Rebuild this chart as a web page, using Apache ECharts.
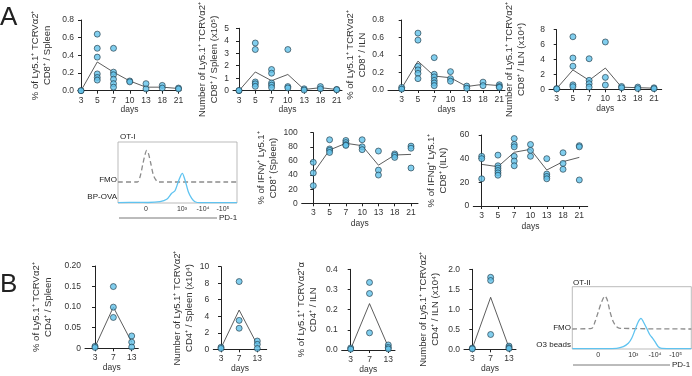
<!DOCTYPE html>
<html>
<head>
<meta charset="utf-8">
<script src="https://cdn.jsdelivr.net/npm/echarts@6/dist/echarts.min.js"></script>
<style>
html, body { margin: 0; padding: 0; background: #fff; }
#main { width: 692px; height: 376px; }
</style>
</head>
<body>
<div id="main"></div>
<script>
var FONT = '"Liberation Sans", Arial, sans-serif';

// x categories (days after transfer)
var daysA = ['3', '5', '7', '10', '13', '18', '21'];
var daysB = ['3', '7', '13'];

// A - CD8 (OT-I), one list of mice per day
var cd8SpleenPct = [[0.0, 0.0], [0.64, 0.48, 0.38, 0.19, 0.15, 0.12], [0.48, 0.21, 0.18, 0.13, 0.08, 0.04], [0.11, 0.10], [0.08, 0.02], [0.06, 0.03], [0.03, 0.02]];
var cd8SpleenPctMean = [0.0, 0.325, 0.21, 0.11, 0.04, 0.04, 0.025];
var cd8SpleenNum = [[0.0, 0.02], [3.82, 3.3, 0.7, 0.55, 0.35], [1.7, 1.4, 0.62, 0.45, 0.25], [3.3, 0.33, 0.22], [0.15, 0.05], [0.33, 0.15], [0.1, 0.08]];
var cd8SpleenNumMean = [0.0, 1.5, 0.8, 1.3, 0.1, 0.24, 0.1];
var cd8IlnPct = [[0.03, 0.01], [0.65, 0.57, 0.27, 0.23, 0.19, 0.13], [0.37, 0.18, 0.15, 0.11, 0.08, 0.05], [0.21, 0.13, 0.10], [0.045, 0.02], [0.09, 0.05], [0.06, 0.04, 0.03]];
var cd8IlnPctMean = [0.02, 0.33, 0.16, 0.14, 0.04, 0.065, 0.05];
var cd8IlnNum = [[0.1, 0.05], [7.05, 4.2, 3.1, 0.6, 0.35], [4.1, 1.2, 0.75, 0.3], [6.35, 1.6, 0.57], [0.38, 0.2], [0.3, 0.1], [0.2, 0.08]];
var cd8IlnNumMean = [0.1, 2.6, 1.2, 2.85, 0.28, 0.22, 0.15];
var ifngSpleen = [[58, 43, 25], [90, 77, 75, 72], [89, 86, 83, 82], [90, 80, 76], [74, 47, 40], [70, 68, 65], [81, 78, 50]];
var ifngSpleenMean = [43, 75.5, 85, 81.6, 54, 68.4, 69.3];
var ifngIln = [[42, 40, 23], [43, 34, 32, 30, 28, 26], [57, 52, 50, 42, 38, 34], [52, 47, 42], [40, 27, 25, 23], [45, 36, 31], [51, 50, 22]];
var ifngIlnMean = [35.2, 33.2, 45.4, 47.9, 30.4, 37.5, 41.1];

// B - CD4 (OT-II)
var cd4SpleenPct = [[0.005, 0.002], [0.15, 0.10, 0.075], [0.03, 0.015, 0.003]];
var cd4SpleenPctMean = [0.003, 0.10, 0.015];
var cd4SpleenNum = [[0.25, 0.1], [8.2, 3.5, 2.55], [1.0, 0.6, 0.1]];
var cd4SpleenNumMean = [0.15, 4.75, 0.55];
var cd4IlnPct = [[0.01, 0.004], [0.335, 0.28, 0.085], [0.025, 0.013, 0.005]];
var cd4IlnPctMean = [0.005, 0.23, 0.015];
var cd4IlnNum = [[0.03, 0.01], [1.8, 1.72, 0.37], [0.08, 0.04, 0.02]];
var cd4IlnNumMean = [0.02, 1.3, 0.04];

// PD-1 histograms: [channel, count]
var pdTickLabels = ['0', '10\u00b3', '-10\u2074', '-10\u2075'];
var otiTicks = [28, 64, 85, 105];
var otiFmo = [[0, 0], [19.3, 0], [22, 5], [24.7, 17.3], [27, 27.3], [28.7, 31.6], [30.3, 29], [32.7, 19], [35.3, 7.3], [37.7, 2.3], [40.3, 0], [119, 0]];
var otiPd1 = [[0, 0.4], [20, 0.6], [30, 0.5], [42, 1.3], [48.7, 3.7], [53.7, 9.7], [57, 12.3], [60.3, 21.3], [64.3, 29.7], [67, 23], [70.3, 11.3], [73.7, 4.7], [77, 1.3], [82, 0.3], [119, 0.3]];
var otiiTicks = [26, 61, 82.7, 103.4];
var otiiFmo = [[0, 0], [19.4, 0.7], [22.7, 7.3], [26, 17.3], [29.4, 27.3], [32.7, 33], [35, 29], [37.7, 17.3], [41, 7.3], [44.4, 2.3], [47.7, 0.7], [119, 0]];
var otiiPd1 = [[0, 0.3], [30, 0.4], [44.4, 0.7], [51, 2.3], [56, 5.7], [59.4, 10.7], [62.7, 19], [66, 27.3], [68.7, 30.7], [71, 27.3], [74.4, 20.7], [77.7, 14], [80.4, 10.7], [82.7, 7.3], [86, 2.3], [89.4, 0.7], [119, 0.3]];

var option = {
    backgroundColor: '#fff',
    animation: false,
    textStyle: { fontFamily: FONT },
    grid: [], xAxis: [], yAxis: [], series: [], graphic: []
};

function dots(groups) {
    var out = [];
    groups.forEach(function (g, i) {
        g.forEach(function (v) { out.push([i, v]); });
    });
    return out;
}

function addPanel(cats, pts, mean, lay) {
    var idx = option.grid.length;
    var n = cats.length;
    var step = (lay.lastCat - lay.firstCat) / (n - 1);
    var idxs = cats.map(function (c, i) { return i; });
    option.grid.push({
        left: lay.axisX, top: lay.top,
        width: lay.xEnd - lay.axisX, height: lay.zero - lay.top
    });
    option.xAxis.push({
        gridIndex: idx, type: 'value',
        min: -(lay.firstCat - lay.axisX) / step,
        max: (n - 1) + (lay.xEnd - lay.lastCat) / step,
        splitLine: { show: false },
        axisLine: { show: true, onZero: false, lineStyle: { color: '#222', width: 1 } },
        axisTick: { show: true, customValues: idxs, length: 3, lineStyle: { color: '#222', width: 1 } },
        axisLabel: {
            customValues: idxs, margin: 5, fontSize: 8.5, color: '#333', fontFamily: FONT,
            formatter: function (v) { return cats[Math.round(v)]; }
        },
        name: 'days', nameLocation: 'middle', nameGap: lay.daysGap || 14,
        nameTextStyle: { fontSize: 8.5, color: '#333', fontFamily: FONT }
    });
    option.yAxis.push({
        gridIndex: idx, type: 'value', min: 0, max: lay.max, interval: lay.interval,
        splitLine: { show: false },
        axisLine: { show: true, lineStyle: { color: '#222', width: 1 } },
        axisTick: { show: true, length: 3, lineStyle: { color: '#222', width: 1 } },
        axisLabel: {
            margin: 4, fontSize: 8.5, color: '#333', fontFamily: FONT,
            formatter: lay.fmt
        },
        name: lay.title, nameLocation: 'middle', nameRotate: 90, nameGap: lay.nameGap,
        nameTextStyle: { fontSize: 9.5, lineHeight: 12, color: '#333', fontFamily: FONT, align: 'center' }
    });
    option.series.push({
        type: 'line', xAxisIndex: idx, yAxisIndex: idx, z: 2,
        data: mean.map(function (v, i) { return [i, v]; }),
        symbol: 'none', lineStyle: { color: '#333', width: 0.8 }
    });
    option.series.push({
        type: 'scatter', xAxisIndex: idx, yAxisIndex: idx, z: 3,
        data: dots(pts), symbolSize: 6,
        itemStyle: { color: '#62c2ea', borderColor: '#1d3440', borderWidth: 0.8 }
    });
}

function fixed(d) { return function (v) { return v.toFixed(d); }; }
function plain(v) { return String(v); }

function addHisto(fmo, pd1, ticks, lay) {
    var idx = option.grid.length;
    option.grid.push({
        left: lay.left, top: lay.top, width: lay.width, height: lay.height,
        show: true, borderColor: '#aaa', borderWidth: 0.8, backgroundColor: 'transparent'
    });
    option.xAxis.push({
        gridIndex: idx, type: 'value', min: 0, max: 119,
        splitLine: { show: false }, axisLine: { show: false },
        axisTick: { show: false },
        axisLabel: {
            customValues: ticks, margin: 3, fontSize: 7, color: '#333', fontFamily: FONT,
            formatter: function (v) { return pdTickLabels[ticks.indexOf(v)]; }
        }
    });
    option.yAxis.push({
        gridIndex: idx, type: 'value', min: 0, max: lay.height,
        show: false, splitLine: { show: false }
    });
    option.series.push({
        type: 'line', xAxisIndex: idx, yAxisIndex: idx, smooth: 0.3,
        data: fmo.map(function (p) { return [p[0], p[1] + lay.fmoBase]; }),
        symbol: 'none', lineStyle: { color: '#8c8c8c', width: 1.3, type: [5, 3] }
    });
    option.series.push({
        type: 'line', xAxisIndex: idx, yAxisIndex: idx, smooth: 0.3,
        data: pd1, symbol: 'none', lineStyle: { color: '#5fc3f0', width: 1.3 }
    });
}

// ---- A, row 1
addPanel(daysA, cd8SpleenPct, cd8SpleenPctMean, {
    axisX: 78, firstCat: 81, lastCat: 178.5, xEnd: 181, top: 20, zero: 90.7,
    max: 0.8, interval: 0.2, fmt: fixed(1), nameGap: 25,
    title: '% of Ly5.1\u207a TCRV\u03b12\u207a\nCD8\u207a / Spleen'
});
addPanel(daysA, cd8SpleenNum, cd8SpleenNumMean, {
    axisX: 233, firstCat: 239, lastCat: 336.7, xEnd: 342, top: 20, zero: 90.7,
    max: 5, interval: 1, fmt: plain, nameGap: 12,
    title: 'Number of Ly5.1\u207a TCRV\u03b12\u207a\nCD8\u207a / Spleen (x10\u2075)'
});
addPanel(daysA, cd8IlnPct, cd8IlnPctMean, {
    axisX: 388, firstCat: 401.7, lastCat: 499.3, xEnd: 505, top: 20, zero: 90,
    max: 0.8, interval: 0.2, fmt: fixed(1), nameGap: 12,
    title: '% of Ly5.1\u207a TCRV\u03b12\u207a\nCD8\u207a / ILN'
});
addPanel(daysA, cd8IlnNum, cd8IlnNumMean, {
    axisX: 549, firstCat: 556.7, lastCat: 654, xEnd: 661.7, top: 19, zero: 89.3,
    max: 8, interval: 2, fmt: plain, nameGap: 22,
    title: 'Number of Ly5.1\u207a TCRV\u03b12\u207a\nCD8\u207a / ILN (x10\u2074)'
});

// ---- A, row 2
addHisto(otiFmo, otiPd1, otiTicks, { left: 118, top: 142, width: 119, height: 61, fmoBase: 21 });
addPanel(daysA, ifngSpleen, ifngSpleenMean, {
    axisX: 301.7, firstCat: 313.3, lastCat: 411, xEnd: 418, top: 132.7, zero: 203.3,
    max: 100, interval: 20, fmt: plain, nameGap: 14, daysGap: 16,
    title: '% of IFN\u03b3\u207a Ly5.1\u207a\nCD8\u207a (Spleen)'
});
addPanel(daysA, ifngIln, ifngIlnMean, {
    axisX: 473.3, firstCat: 481.7, lastCat: 579.3, xEnd: 587.7, top: 135, zero: 206,
    max: 60, interval: 20, fmt: plain, nameGap: 24, daysGap: 16,
    title: '% of IFNg\u207a Ly5.1\u207a\nCD8\u207a (ILN)'
});

// ---- B
addPanel(daysB, cd4SpleenPct, cd4SpleenPctMean, {
    axisX: 85, firstCat: 95, lastCat: 131.7, xEnd: 138.3, top: 266, zero: 348.3,
    max: 0.2, interval: 0.05, nameGap: 31,
    fmt: function (v) { return v === 0 ? '0' : v.toFixed(2); },
    title: '% of Ly5.1\u207a TCRV\u03b12\u207a\nCD4\u207a / Spleen'
});
addPanel(daysB, cd4SpleenNum, cd4SpleenNumMean, {
    axisX: 213.3, firstCat: 221, lastCat: 257.3, xEnd: 266.7, top: 266.7, zero: 349.3,
    max: 10, interval: 2, fmt: plain, nameGap: 18,
    title: 'Number of Ly5.1\u207a TCRV\u03b12\u207a\nCD4\u207a / Spleen (x10\u2074)'
});
addPanel(daysB, cd4IlnPct, cd4IlnPctMean, {
    axisX: 341.7, firstCat: 350.7, lastCat: 388.3, xEnd: 395, top: 269.3, zero: 350,
    max: 0.4, interval: 0.1, fmt: fixed(1), nameGap: 22,
    title: '% of Ly5.1\u207a TCRV\u03b12\u207a\u03b1\nCD4\u207a / ILN'
});
addPanel(daysB, cd4IlnNum, cd4IlnNumMean, {
    axisX: 464, firstCat: 472.3, lastCat: 509, xEnd: 516, top: 269.3, zero: 349.3,
    max: 2, interval: 0.5, fmt: fixed(1), nameGap: 23,
    title: 'Number of Ly5.1\u207a TCRV\u03b12\u207a\nCD4\u207a / ILN (x10\u2074)'
});
addHisto(otiiFmo, otiiPd1, otiiTicks, { left: 572.3, top: 286.7, width: 119, height: 62.3, fmoBase: 20 });

// panel letters and histogram captions
function txt(x, y, s, size, align) {
    return {
        type: 'text', x: x, y: y,
        style: { text: s, fontSize: size, fontFamily: FONT, fill: '#222', align: align || 'left', verticalAlign: 'middle' }
    };
}
function hline(x1, x2, y) {
    return { type: 'line', shape: { x1: x1, y1: y, x2: x2, y2: y }, style: { stroke: '#555', lineWidth: 0.8 } };
}
option.graphic = [
    txt(0, 18, 'A', 26), txt(0, 285, 'B', 26),
    txt(120, 137, 'OT-I', 8), txt(117, 180, 'FMO', 8, 'right'), txt(117, 197, 'BP-OVA', 8, 'right'),
    hline(119, 217, 218), txt(219, 218, 'PD-1', 8),
    txt(573, 282.7, 'OT-II', 8), txt(571, 327.3, 'FMO', 8, 'right'), txt(571, 345, 'O3 beads', 8, 'right'),
    hline(573, 670, 365), txt(672, 365, 'PD-1', 8)
];

var chart = echarts.init(document.getElementById('main'), null, { renderer: 'canvas' });
chart.setOption(option);
</script>
</body>
</html>
